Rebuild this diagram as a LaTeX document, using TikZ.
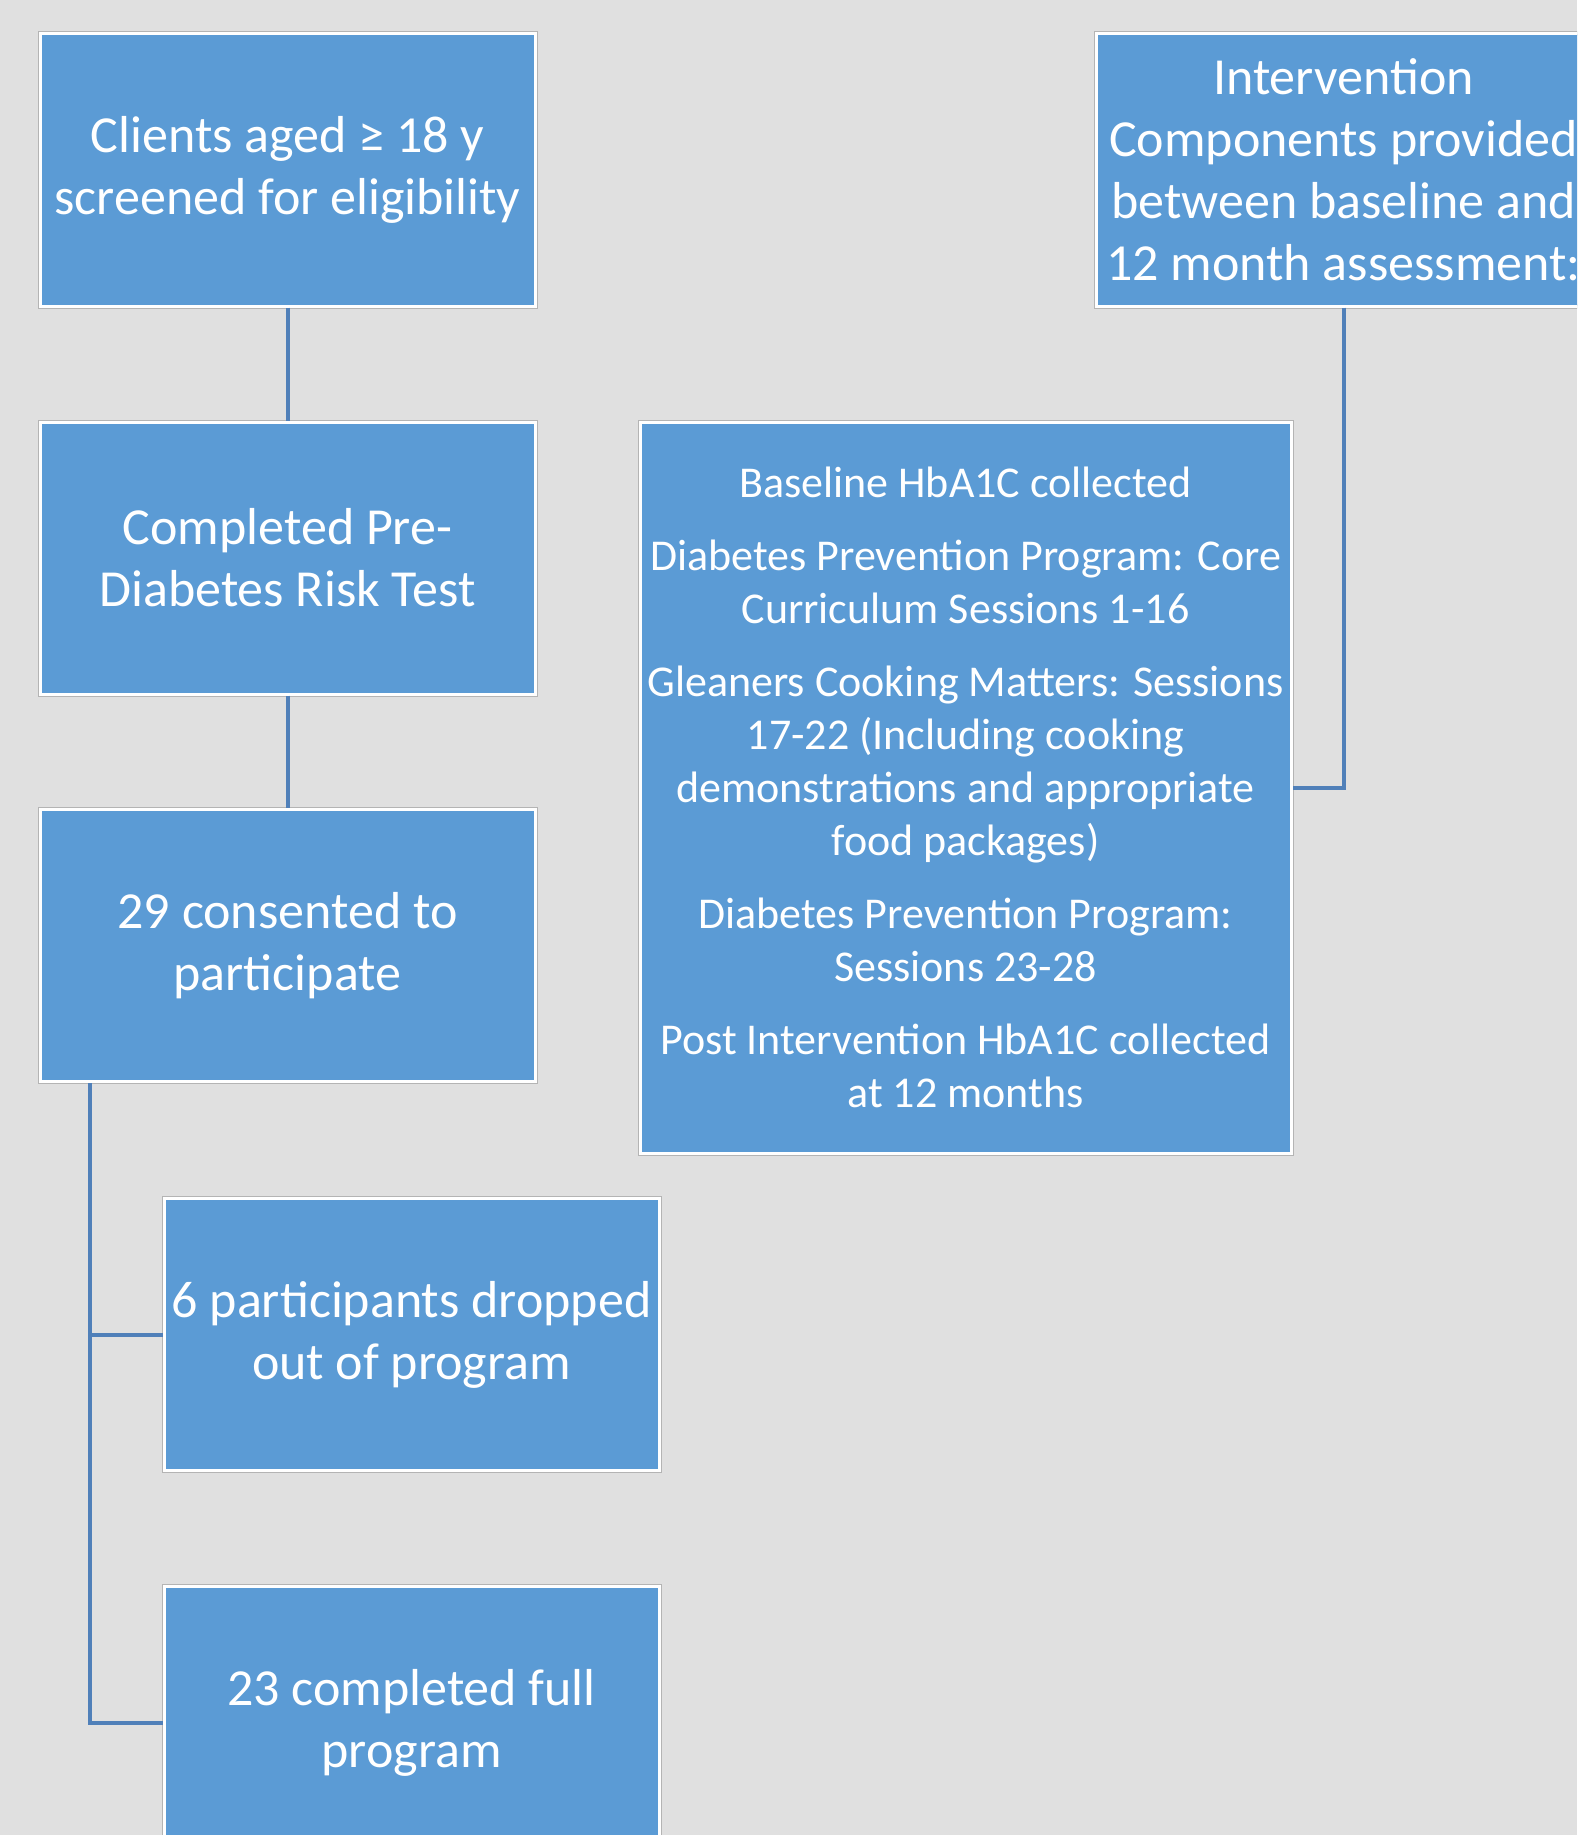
\documentclass[tikz,border=0pt]{standalone}
\usepackage{fontspec}
\setmainfont{Carlito}
\definecolor{bg}{HTML}{E0E0E0}
\definecolor{boxfill}{HTML}{5B9BD5}
\definecolor{conn}{RGB}{80,128,185}
\definecolor{rim}{HTML}{B4B4B4}
\tikzset{
  flowbox/.style={rectangle, fill=boxfill, draw=white, line width=3pt,
    preaction={draw=rim, line width=5pt},
    text=white, align=center, inner sep=0pt,
    minimum width=495pt, minimum height=272pt,
    font=\fontsize{52}{62}\selectfont},
  listbox/.style={flowbox, minimum width=651pt, minimum height=731pt,
    font=\fontsize{44}{53}\selectfont},
  link/.style={draw=conn, line width=4pt}
}
\begin{document}
\begin{tikzpicture}[x=1pt,y=-1pt]
\fill[bg] (0,0) rectangle (1577,1835);
\useasboundingbox (0,0) rectangle (1577,1835);
\clip (0,0) rectangle (1577,1835);

\node[flowbox] (b1) at (287.5,170) {Clients aged ≥ 18 y\\screened for eligibility};
\node[flowbox] (b2) at (287.5,558) {Completed Pre-\\Diabetes Risk Test};
\node[flowbox] (b3) at (287.5,945.5) {29 consented to\\participate};
\node[flowbox] (b4) at (411.5,1334.5) {6 participants dropped\\out of program};
\node[flowbox] (b5) at (411.5,1722.5) {23 completed full\\program};
\node[flowbox] (b6) at (1343.5,170) {Intervention\\Components provided\\between baseline and\\12 month assessment:};
\node[listbox] (b7) at (965.5,787.5) {Baseline HbA1C collected\\[20pt]
Diabetes Prevention Program: Core\\Curriculum Sessions 1-16\\[20pt]
Gleaners Cooking Matters: Sessions\\17-22 (Including cooking\\demonstrations and appropriate\\food packages)\\[20pt]
Diabetes Prevention Program:\\Sessions 23-28\\[20pt]
Post Intervention HbA1C collected\\at 12 months};

\draw[link] (b1.south) -- (b2.north);
\draw[link] (b2.south) -- (b3.north);
\draw[link] ([xshift=51pt]b3.south west) |- (b4.west);
\draw[link] ([xshift=51pt]b3.south west) |- (b5.west);
\draw[link] (b6.south) |- (b7.east);
\end{tikzpicture}
\end{document}
